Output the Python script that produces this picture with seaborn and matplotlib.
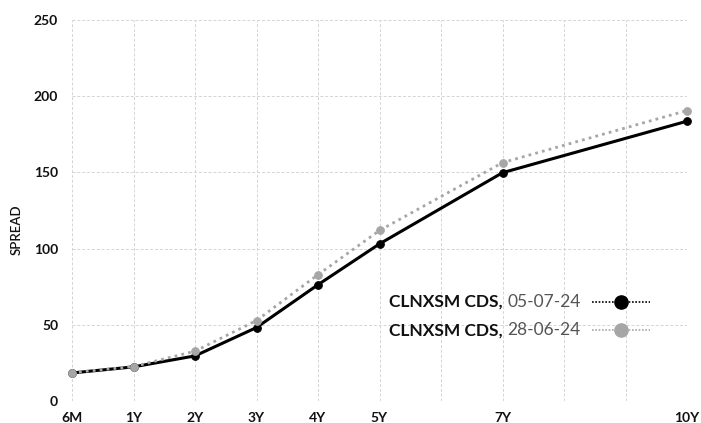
import matplotlib
matplotlib.use("Agg")
import matplotlib.pyplot as plt
import seaborn as sns
import pandas as pd
from matplotlib.lines import Line2D

# tenors and their position on the axis (6M sits at the origin)
tenors = ["6M", "1Y", "2Y", "3Y", "4Y", "5Y", "7Y", "10Y"]
tenor_pos = [0, 1, 2, 3, 4, 5, 7, 10]

# CDS spreads
spread_0507 = [18.4, 22.4, 29.6, 48.2, 76.3, 103.1, 149.8, 183.6]
spread_2806 = [18.6, 22.6, 32.7, 52.8, 82.9, 111.9, 156.4, 190.6]

name = "CLNXSM CDS,"
date_new = "05-07-24"
date_old = "28-06-24"

df = pd.DataFrame({"pos": tenor_pos * 2,
                   "spread": spread_0507 + spread_2806,
                   "date": [date_new] * 8 + [date_old] * 8})

sns.set_style("white")
plt.rcParams["font.family"] = ["Lato", "DejaVu Sans"]

fig = plt.figure(figsize=(7.01, 4.23), dpi=100)
ax = fig.add_axes([72 / 701, 1 - 401 / 423, 615 / 701, 381 / 423])

black = "#000000"
grey = "#a6a6a6"

# newest curve: solid black
sns.lineplot(data=df[df["date"] == date_new], x="pos", y="spread", ax=ax,
             color=black, lw=2.2, marker="o", markersize=5.5,
             markeredgecolor=black, clip_on=False, zorder=3)
# previous curve: dotted grey, drawn over
sns.lineplot(data=df[df["date"] == date_old], x="pos", y="spread", ax=ax,
             color=grey, lw=2, linestyle=(0, (1, 1.5)), marker="o",
             markersize=5.5, markeredgecolor=grey, clip_on=False, zorder=4)

ax.set_xlim(0, 10)
ax.set_ylim(0, 250)
ax.set_xticks(range(0, 11))
lab = dict(zip(tenor_pos, tenors))
ax.set_xticklabels([lab.get(i, "") for i in range(0, 11)])
ax.set_yticks(range(0, 251, 50))
ax.tick_params(axis="x", length=0, pad=8, labelsize=10)
ax.tick_params(axis="y", length=0, pad=10, labelsize=10)
for t in ax.get_xticklabels() + ax.get_yticklabels():
    t.set_fontweight("bold")
    t.set_color("#111111")

ax.grid(True, color="#d4d4d4", linestyle=(0, (3, 2)), linewidth=0.7)
ax.set_axisbelow(True)
for s in ax.spines.values():
    s.set_visible(False)

ax.set_xlabel("")
ax.set_ylabel("SPREAD", fontsize=9.5, fontweight="semibold", color="#111111")
ax.yaxis.set_label_coords(-0.081, 0.45)

if ax.get_legend():
    ax.get_legend().remove()

# legend built from text and line glyphs
rows = [(date_new, black, black, 0.26), (date_old, grey, grey, 0.186)]
for d, lc, mc, yy in rows:
    ax.text(0.515, yy, name, transform=ax.transAxes, fontsize=12.5,
            fontweight="bold", va="center", ha="left", color="#111111")
    ax.text(0.708, yy, d, transform=ax.transAxes, fontsize=12.5,
            va="center", ha="left", color="#555555")
    ax.add_line(Line2D([0.846, 0.94], [yy, yy], transform=ax.transAxes,
                       color=lc, lw=1.2, linestyle=(0, (1, 1))))
    ax.add_line(Line2D([0.893], [yy], transform=ax.transAxes, color=mc,
                       marker="o", markersize=9.5, markeredgecolor=mc))

fig.savefig("out.png", dpi=100)
